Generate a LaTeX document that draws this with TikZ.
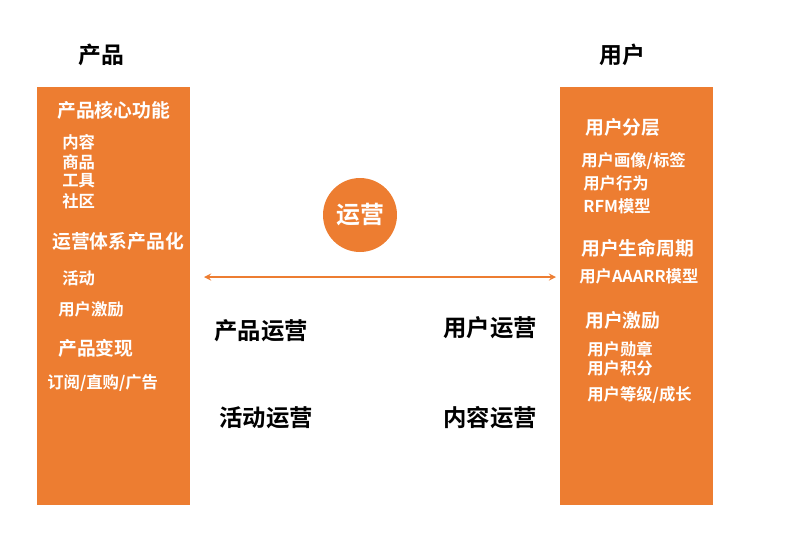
\documentclass[tikz,border=0pt]{standalone}
\usepackage{fontspec}
\setmainfont{Noto Sans CJK SC}[BoldFont={* Bold}]
\usetikzlibrary{positioning}
\definecolor{ops}{HTML}{ED7D31}
\tikzset{
    panel/.style={fill=ops, draw=none},
    head/.style={font=\bfseries\fontsize{13}{15}\selectfont},
    title/.style={anchor=west, text=white, inner sep=0pt, font=\bfseries\fontsize{10.7}{12}\selectfont},
    item/.style={anchor=west, text=white, inner sep=0pt, font=\bfseries\fontsize{9.3}{11}\selectfont},
    topic/.style={font=\bfseries\fontsize{13.3}{15}\selectfont},
    link/.style={ops, thick, <->, >=stealth},
}
\begin{document}
\begin{tikzpicture}[x=0.02cm, y=-0.02cm]
	\useasboundingbox (0,0) rectangle (787,545);
	% the two columns
	\fill [panel] (37,87) rectangle (190,505);
	\fill [panel] (560,87) rectangle (713,505);
	\node (prod) [head] at (101,55) {产品};
	\node (user) [head] at (622,55) {用户};

	% product side
	\node (core) [title] at (57,110) {产品核心功能};
	\node (c1) [item] at (62,142) {内容};
	\node (c2) [item] at (62,162) {商品};
	\node (c3) [item] at (62,181) {工具};
	\node (c4) [item] at (62,201) {社区};
	\node (sys) [title] at (52,241) {运营体系产品化};
	\node (s1) [item] at (62,278) {活动};
	\node (s2) [item] at (58,309) {用户激励};
	\node (cash) [title] at (58,348) {产品变现};
	\node (m1) [item] at (47,383) {订阅/直购/广告};

	% user side
	\node (tier) [title] at (585,127) {用户分层};
	\node (t1) [item] at (581,161) {用户画像/标签};
	\node (t2) [item] at (583,183) {用户行为};
	\node (t3) [item] at (583,206) {RFM模型};
	\node (life) [title] at (581,248) {用户生命周期};
	\node (l1) [item] at (579,276) {用户AAARR模型};
	\node (inc) [title] at (585,320) {用户激励};
	\node (i1) [item] at (587,349) {用户勋章};
	\node (i2) [item] at (587,368) {用户积分};
	\node (i3) [item] at (587,395) {用户等级/成长};

	% middle
	\node (ops) [circle, fill=ops, minimum size=1.48cm, text=white, font=\bfseries\fontsize{13.6}{15}\selectfont] at (360,215) {运营};
	\coordinate (la) at (204,277);
	\coordinate (ra) at (556,277);
	\draw [link] (la) -- (ra);
	\node (po) [topic] at (261,331) {产品运营};
	\node (uo) [topic] at (490,328) {用户运营};
	\node (ao) [topic] at (266,418) {活动运营};
	\node (co) [topic] at (490,418) {内容运营};
\end{tikzpicture}
\end{document}
